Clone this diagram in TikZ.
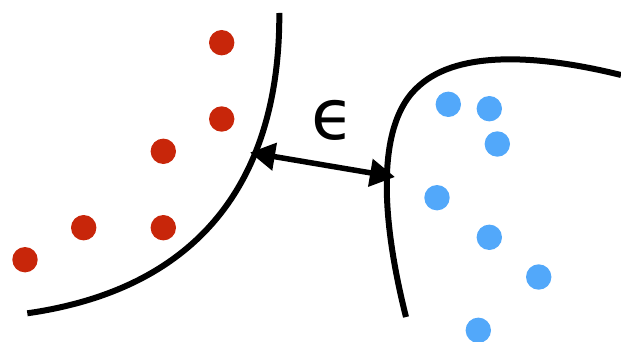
\documentclass[tikz,border=0pt]{standalone}
\usepackage{fontspec}
\newfontfamily\epsfont{DejaVu Sans}
\usetikzlibrary{arrows.meta}
\definecolor{dotred}{RGB}{200,38,10}
\definecolor{dotblue}{RGB}{82,168,250}
\tikzset{
  reddot/.style={circle,fill=dotred,minimum size=25.4pt,inner sep=0pt},
  bluedot/.style={circle,fill=dotblue,minimum size=25.4pt,inner sep=0pt},
  boundary/.style={line width=6pt,black},
  gap/.style={line width=5.5pt,{Triangle[length=25pt,width=27pt]}-{Triangle[length=25pt,width=27pt]}}
}
\begin{document}
\begin{tikzpicture}[x=1pt,y=-1pt]
\useasboundingbox (0,0) rectangle (621,342);
% red dots
\node[reddot] (r1) at (221.7,42.7) {};
\node[reddot] (r2) at (221.7,119) {};
\node[reddot] (r3) at (163.3,151.3) {};
\node[reddot] (r4) at (83.7,227.7) {};
\node[reddot] (r5) at (163.3,227.7) {};
\node[reddot] (r6) at (25,259.7) {};
% blue dots
\node[bluedot] (b1) at (448.3,104.3) {};
\node[bluedot] (b2) at (489.3,108.7) {};
\node[bluedot] (b3) at (497.3,144) {};
\node[bluedot] (b4) at (437,197.7) {};
\node[bluedot] (b5) at (489.3,237.3) {};
\node[bluedot] (b6) at (538.7,277) {};
\node[bluedot] (b7) at (478.3,330.3) {};
% boundaries
\draw[boundary] (279.3,13) .. controls (280,150) and (225,285) .. (27.3,313.3);
\draw[boundary] (406,317) .. controls (384,230) and (372,125) .. (420,85)
   .. controls (460,50) and (540,55) .. (621,75);
% gap arrow
\coordinate (pL) at (250,152.5);
\coordinate (pR) at (395,177);
\draw[gap] (pL) -- (pR);
\node (eps) at (333,120) {\epsfont\fontsize{70}{70}\selectfont ϵ};
\end{tikzpicture}
\end{document}
